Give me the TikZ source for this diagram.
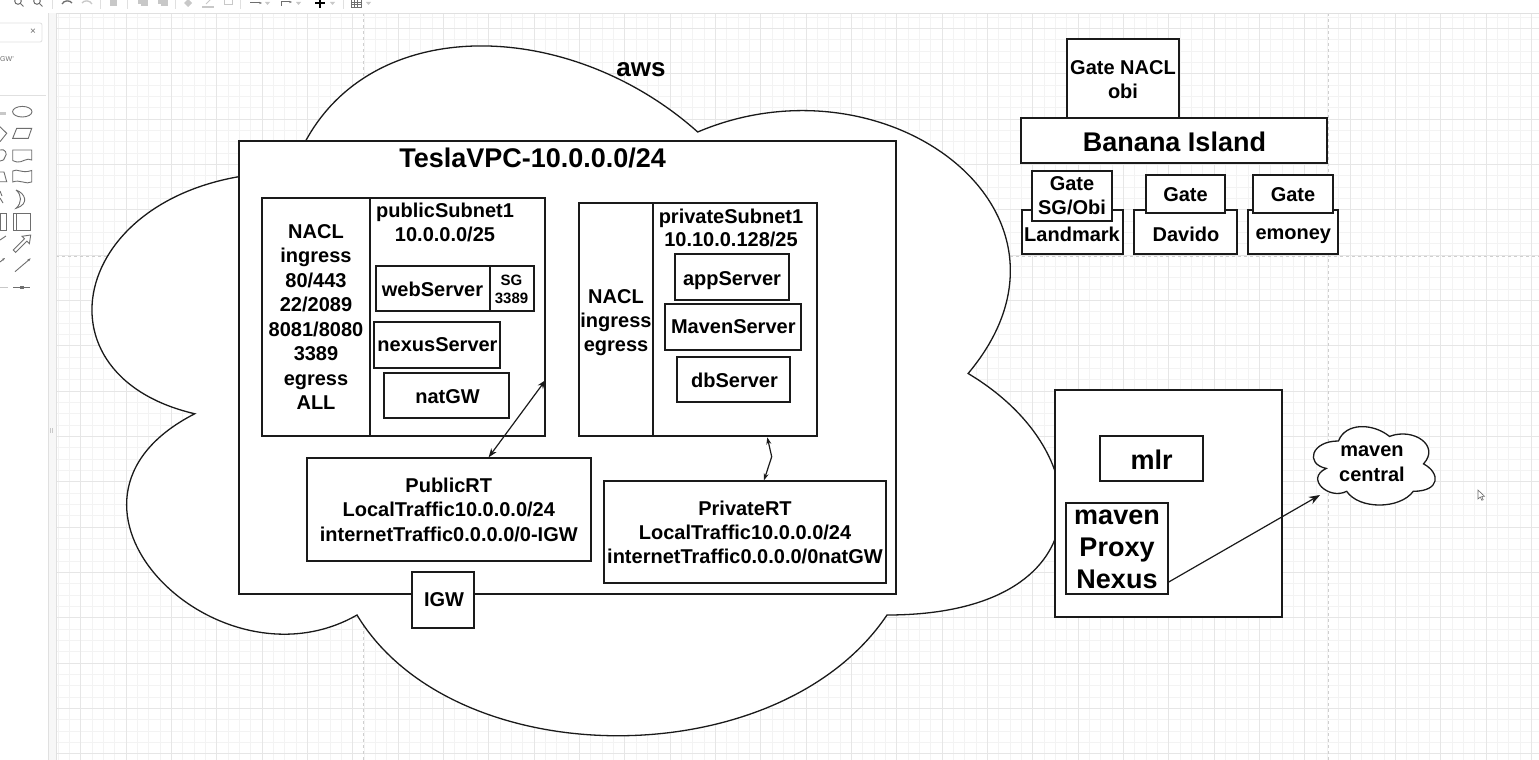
\documentclass[tikz,border=0pt]{standalone}
\usepackage{fontspec}
\setmainfont{Liberation Sans}
\usetikzlibrary{arrows.meta,fit,calc}
\definecolor{lc}{HTML}{1A1A1A}
\definecolor{gminor}{HTML}{F3F3F3}
\definecolor{gmajor}{HTML}{E6E6E6}
\definecolor{pagebrk}{HTML}{CFCFCF}
\definecolor{uidark}{HTML}{6E6E6E}
\definecolor{uilight}{HTML}{C8C8C8}
\definecolor{uiline}{HTML}{E0E0E0}
\definecolor{panelbg}{HTML}{F7F7F7}
\tikzset{
  box/.style={draw=lc, fill=white, line width=1.3pt, inner sep=0pt},
  txt/.style={inner sep=0pt, align=center, text=black, font=\fontsize{20}{24.5}\selectfont\bfseries},
  bigtxt/.style={font=\fontsize{27}{32.2}\selectfont\bfseries},
  link/.style={draw=lc, line width=1.2pt},
  cloudshape/.style={draw=lc, fill=white, line width=1.3pt},
  uitxt/.style={inner sep=0pt, text=uidark}
}
\begin{document}
\begin{tikzpicture}[x=1pt, y=-1pt]
\useasboundingbox (0,0) rectangle (1539,760);
\fill[white] (0,0) rectangle (1539,760);
% ---------- grid ----------
\foreach \k in {-2,...,130} \draw[gminor, line width=0.6pt] ({80.7+11.333*\k},13.3) -- ({80.7+11.333*\k},760);
\foreach \k in {-1,...,66} \draw[gminor, line width=0.6pt] (56,{28.3+11.333*\k}) -- (1539,{28.3+11.333*\k});
\foreach \k in {0,...,32} \draw[gmajor, line width=0.7pt] ({80.7+45.333*\k},13.3) -- ({80.7+45.333*\k},760);
\foreach \k in {0,...,16} \draw[gmajor, line width=0.7pt] (56,{28.3+45.333*\k}) -- (1539,{28.3+45.333*\k});
\draw[pagebrk, dash pattern=on 3pt off 3pt, line width=0.8pt] (363.3,13.3) -- (363.3,760) (1328,13.3) -- (1328,760) (56,256) -- (1539,256);
% ---------- toolbar ----------
\fill[white] (0,0) rectangle (1539,13.3);
\draw[uiline, line width=0.8pt] (0,13.3) -- (1539,13.3);
\begin{scope}[line width=1pt]
\draw[uidark] (18,1) circle (3.3); \draw[uidark] (20.5,3.5) -- (23.5,6.5);
\draw[uidark] (37,1) circle (3.3); \draw[uidark] (39.5,3.5) -- (42.5,6.5);
\draw[uiline] (52,0) -- (52,9) (100,0) -- (100,9) (127,0) -- (127,9) (175,0) -- (175,9) (240,0) -- (240,9) (343,0) -- (343,9);
\draw[uidark, line width=1.3pt] (62,4) .. controls (64,0) and (70,0) .. (72,3);
\draw[uilight, line width=1.3pt] (82,3) .. controls (84,0) and (90,0) .. (92,4);
\fill[uilight] (110,-2) rectangle (117,6);
\fill[uilight] (138,-2) rectangle (145,4); \fill[uilight] (141,0) rectangle (148,6);
\fill[uilight] (158,-2) rectangle (165,4); \fill[uilight] (161,0) rectangle (168,6);
\fill[uilight] (188,-1) -- (192,3) -- (188,7) -- (184,3) -- cycle;
\draw[uilight, line width=1.5pt] (202,7) -- (214,7); \draw[uilight] (206,4) -- (211,-1);
\draw[uilight] (224,-2) rectangle (232,5);
\draw[uidark, -{Stealth[length=3pt]}] (250,3) -- (262,3);
\fill[uilight] (265,2) -- (270,2) -- (267.5,5) -- cycle;
\draw[uidark, -{Stealth[length=3pt]}] (281,6) -- (281,2) -- (292,2);
\fill[uilight] (296,2) -- (301,2) -- (298.5,5) -- cycle;
\draw[black, line width=2pt] (320,-3) -- (320,8) (315,3) -- (325,3);
\fill[uilight] (330,2) -- (335,2) -- (332.5,5) -- cycle;
\draw[uidark, line width=0.7pt] (351,-1) rectangle (361,7) (351,2) -- (361,2) (351,4.5) -- (361,4.5) (354.3,-1) -- (354.3,7) (357.6,-1) -- (357.6,7);
\fill[uilight] (366,2) -- (371,2) -- (368.5,5) -- cycle;
\end{scope}
% ---------- left panel ----------
\fill[white] (0,13.3) rectangle (48,760);
\fill[panelbg] (48,13.3) rectangle (56,760);
\draw[uiline, line width=0.8pt] (48,13.3) -- (48,760) (56,13.3) -- (56,760) (0,95) -- (46,95);
\draw[uiline, line width=0.8pt, rounded corners=2pt] (-3,23) rectangle (42,42);
\node[uitxt, font=\fontsize{10}{10}\selectfont] (xclose) at (33,32) {×};
\node[uitxt, font=\fontsize{7}{7}\selectfont, anchor=west] (gwtxt) at (0,59) {GW'};
\begin{scope}[uidark, line width=0.9pt]
\fill[uilight] (0,112) rectangle (6,115);
\draw (22.3,111.7) ellipse (9.7 and 5.3);
\draw (0,126.7) -- (6.7,133.3) -- (0,141.7);
\draw (16.7,128.3) -- (31.7,128.3) -- (28.3,138.3) -- (12.7,138.3) -- cycle;
\draw (0,150) .. controls (5,148) and (8,154) .. (5,157) .. controls (4,160) .. (0,161);
\draw (12.7,150) -- (31.7,150) -- (31.7,160) .. controls (27,157) and (22,163) .. (17,162) .. controls (15,161.5) and (13.5,161) .. (12.7,160.5) -- cycle;
\draw (0,172) -- (4,172) -- (6.7,181.7) -- (0,181.7);
\draw (12.7,171) .. controls (17,168) and (22,174) .. (31.7,170.5) -- (31.7,182) .. controls (26,185) and (20,179) .. (12.7,182) -- cycle;
\draw (0,191) -- (2,196) (0,198) -- (3,203);
\draw (16,190) .. controls (25,193) and (30,204) .. (16,208.3) .. controls (22,203) and (22,195) .. (16,190);
\draw (0,213.3) rectangle (6.7,230);
\draw (13.3,213.3) rectangle (30.7,230); \draw (16,213.3) -- (16,230);
\draw (0,240) -- (6,236);
\draw (13.3,250) -- (24.5,238.8) -- (22,236.3) -- (30.7,235) -- (29.4,243.7) -- (26.9,241.2) -- (15.7,252.4) -- cycle;
\draw[-{Stealth[length=3pt]}] (0,262) -- (5,258);
\draw[-{Stealth[length=3.5pt]}] (15,271.7) -- (30.7,258.3);
\draw (13.3,287.3) -- (30,287.3); \fill (20,285.5) rectangle (24,289);
\draw[uilight] (0,287.3) -- (8,287.3);
\draw[uilight] (50.5,428) -- (50.5,433) (52.5,428) -- (52.5,433);
\end{scope}
% ---------- aws cloud ----------
\filldraw[cloudshape, shift={(21.7,-29)}, xscale=1081.6, yscale=805]
  (0.25,0.25) .. controls (0.05,0.25) and (0,0.5) .. (0.16,0.55)
  .. controls (0,0.66) and (0.18,0.9) .. (0.31,0.8)
  .. controls (0.4,1) and (0.7,1) .. (0.8,0.8)
  .. controls (1,0.8) and (1,0.6) .. (0.875,0.5)
  .. controls (1,0.3) and (0.8,0.1) .. (0.625,0.2)
  .. controls (0.5,0.05) and (0.3,0.05) .. (0.25,0.25) -- cycle;
\node[txt, font=\fontsize{26}{30}\selectfont\bfseries] (aws) at (641,69.5) {aws};
% ---------- VPC ----------
\node[box, fit={(239,141) (896,594)}] (vpc) {};
\node[txt, bigtxt] (vpct) at (532.6,158.3) {TeslaVPC-10.0.0.0/24};
% public subnet
\node[box, fit={(262,198) (545,436)}] (pubsub) {};
\node[box, fit={(262,198) (370,436)}] (pubnacl) {};
\node[txt] (pubnaclt) at (316,317) {NACL\\ingress\\80/443\\22/2089\\8081/8080\\3389\\egress\\ALL};
\node[txt, font=\fontsize{20}{23.5}\selectfont\bfseries] (pubsubt) at (445,222.3) {publicSubnet1\\10.0.0.0/25};
\node[box, fit={(376,266) (490,311)}] (web) {};
\node[txt] (webt) at (432.5,289) {webServer};
\node[box, fit={(490,266) (534,311)}] (sg) {};
\node[txt, font=\fontsize{15}{18.3}\selectfont\bfseries] (sgt) at (511.5,289) {SG\\3389};
\node[box, fit={(374,322) (500,368)}] (nexus) {};
\node[txt] (nexust) at (437.5,345) {nexusServer};
\node[box, fit={(384,373) (509,418)}] (nat) {};
\node[txt] (natt) at (447.5,396.7) {natGW};
% private subnet
\node[box, fit={(579,203) (817,436)}] (privsub) {};
\node[box, fit={(579,203) (653,436)}] (privnacl) {};
\node[txt, font=\fontsize{20}{23.8}\selectfont\bfseries] (privnaclt) at (616,322.6) {NACL\\ingress\\egress};
\node[txt, font=\fontsize{20}{23.3}\selectfont\bfseries] (privsubt) at (731,228.3) {privateSubnet1\\10.10.0.128/25};
\node[box, fit={(675,254) (789,300)}] (app) {};
\node[txt] (appt) at (732,280.4) {appServer};
\node[box, fit={(665,304) (801,350)}] (mvn) {};
\node[txt] (mvnt) at (733.3,327) {MavenServer};
\node[box, fit={(677,357) (790,402)}] (db) {};
\node[txt] (dbt) at (734.5,380) {dbServer};
% route tables
\node[box, fit={(307,458) (591,561)}] (prt) {};
\node[txt] (prtt) at (448.8,509.5) {PublicRT\\LocalTraffic10.0.0.0/24\\internetTraffic0.0.0.0/0-IGW};
\node[box, fit={(604,481) (886,583)}] (vrt) {};
\node[txt, font=\fontsize{20}{24.2}\selectfont\bfseries] (vrtt) at (745,532.5) {PrivateRT\\LocalTraffic10.0.0.0/24\\internetTraffic0.0.0.0/0natGW};
\node[box, fit={(412,572) (474,628)}] (igw) {};
\node[txt] (igwt) at (444,600) {IGW};
% connectors
\draw[link, {Stealth[length=9pt,width=6.5pt]}-{Stealth[length=9pt,width=6.5pt]}] ($(prt.north)+(39.6,0)$) -- ($(pubsub.east)+(0,63)$);
\coordinate (zz) at (771.7,456.7);
\draw[link, {Stealth[length=7pt,width=5pt]}-{Stealth[length=7pt,width=5pt]}] ($(privsub.south)+(69.3,0.7)$) -- (zz) -- ($(vrt.north)+(19,0)$);
% ---------- Banana Island ----------
\node[box, fit={(1067,39) (1179,118)}] (gnacl) {};
\node[txt] (gnaclt) at (1123,79.5) {Gate NACL\\obi};
\node[box, fit={(1021,118) (1327,163)}] (banana) {};
\node[txt, bigtxt] (bananat) at (1174.5,141.5) {Banana Island};
\node[box, fit={(1022,210) (1123,254)}] (landmark) {};
\node[txt] (landmarkt) at (1072,234) {Landmark};
\node[box, fit={(1032,171) (1112,221)}] (gsg) {};
\node[txt, font=\fontsize{20}{24.3}\selectfont\bfseries] (gsgt) at (1072,196) {Gate\\SG/Obi};
\node[box, fit={(1134,210) (1237,254)}] (davido) {};
\node[txt] (davidot) at (1186,234) {Davido};
\node[box, fit={(1146,175) (1225,213)}] (gdav) {};
\node[txt] (gdavt) at (1185.5,195) {Gate};
\node[box, fit={(1248,210) (1338,254)}] (emoney) {};
\node[txt] (emoneyt) at (1293.3,236) {emoney};
\node[box, fit={(1253,175) (1333,213)}] (gem) {};
\node[txt] (gemt) at (1293,195) {Gate};
% ---------- mlr ----------
\node[box, fit={(1055,390) (1282,617)}] (mlrout) {};
\node[box, fit={(1100,436) (1203,481)}] (mlr) {};
\node[txt, bigtxt] (mlrt) at (1151.5,459.3) {mlr};
\node[box, fit={(1066,503) (1168,594)}] (mpn) {};
\node[txt, bigtxt] (mpnt) at (1117,549.5) {maven\\Proxy\\Nexus};
% maven central cloud
\filldraw[cloudshape, shift={(1304.5,418.1)}, xscale=136, yscale=91.5]
  (0.25,0.25) .. controls (0.05,0.25) and (0,0.5) .. (0.16,0.55)
  .. controls (0,0.66) and (0.18,0.9) .. (0.31,0.8)
  .. controls (0.4,1) and (0.7,1) .. (0.8,0.8)
  .. controls (1,0.8) and (1,0.6) .. (0.875,0.5)
  .. controls (1,0.3) and (0.8,0.1) .. (0.625,0.2)
  .. controls (0.5,0.05) and (0.3,0.05) .. (0.25,0.25) -- cycle;
\node[txt, font=\fontsize{20}{25}\selectfont\bfseries] (mc) at (1372,464.2) {maven\\central};
\coordinate (mcin) at (1320,495);
\draw[link, -{Stealth[length=11pt,width=8pt]}] ($(mpn.south east)+(0,-12.6)$) -- (mcin);
% cursor
\filldraw[fill=white, draw=uidark, line width=0.6pt] (1478,490) -- (1478,499) -- (1480.3,497) -- (1481.8,500.3) -- (1483.2,499.7) -- (1481.7,496.5) -- (1484.5,496.3) -- cycle;
\end{tikzpicture}
\end{document}
